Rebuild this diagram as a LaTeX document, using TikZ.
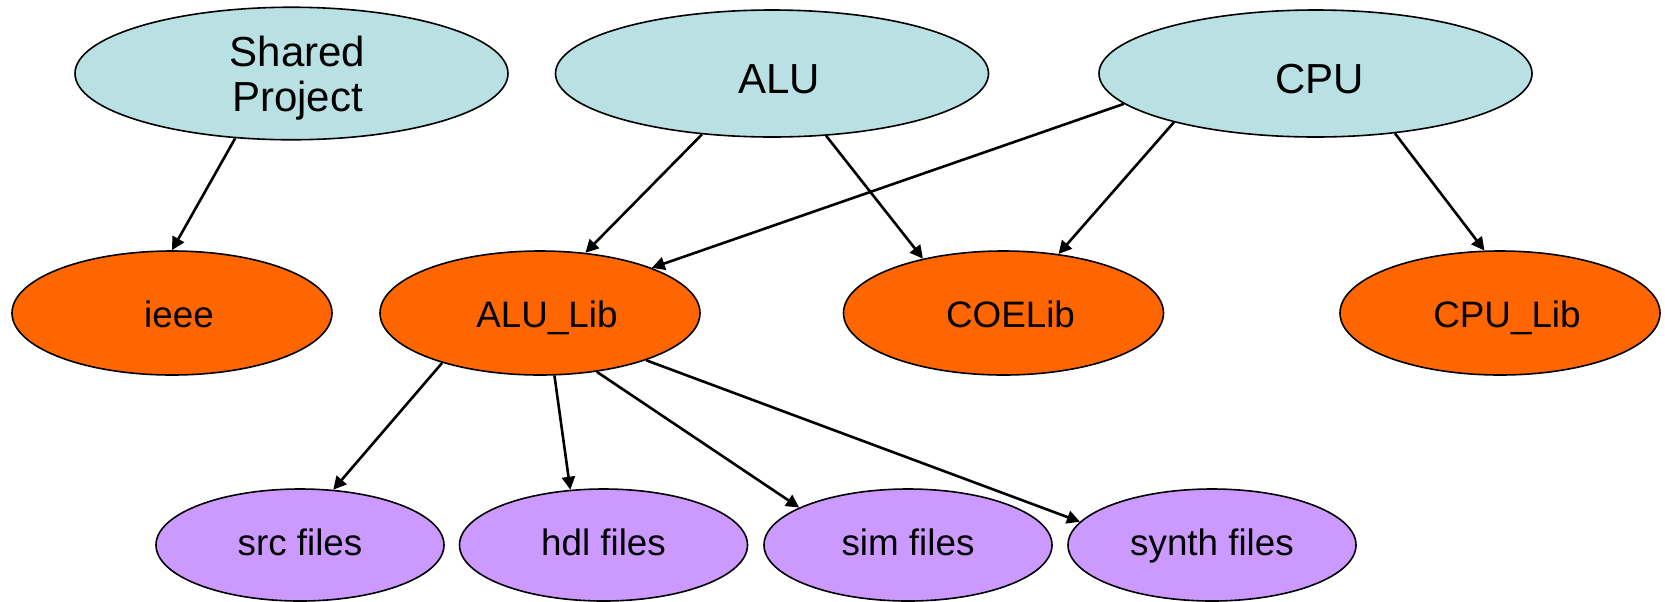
\documentclass[tikz,border=0pt]{standalone}
\usepackage{fontspec}
\setmainfont{Liberation Sans}
\usetikzlibrary{shapes.geometric,arrows.meta}
\definecolor{topblue}{RGB}{185,224,227}
\definecolor{liborange}{RGB}{255,102,0}
\definecolor{filepurple}{RGB}{204,153,255}
\begin{document}
\begin{tikzpicture}[x=0.5pt,y=-0.5pt,
  topnode/.style={ellipse,draw=black,line width=0.8pt,fill=topblue,inner sep=0pt,
    minimum width=216.5pt,minimum height=63.5pt,align=center,
    font=\fontsize{21}{22.5}\selectfont},
  topone/.style={topnode,text height=20pt,text depth=0pt},
  libnode/.style={ellipse,draw=black,line width=0.8pt,fill=liborange,inner sep=0pt,
    minimum width=160pt,minimum height=62pt,font=\fontsize{18.4}{21}\selectfont,
    text height=14.4pt,text depth=0pt},
  filenode/.style={ellipse,draw=black,line width=0.8pt,fill=filepurple,inner sep=0pt,
    minimum width=144pt,minimum height=56pt,font=\fontsize{18.4}{21}\selectfont,
    text height=10.5pt,text depth=0pt},
  conn/.style={line width=1.3pt,-{Triangle[length=6.5pt,width=6.5pt]}}]
\useasboundingbox (0,0) rectangle (1665,601);
% top row
\node[topnode] (sp)  at (291.5,73.5) {\hspace*{6pt}\rule{0pt}{20pt}Shared\\\hspace*{6pt}Project};
\node[topone] (alu) at (772,73.5)   {\hspace*{7pt}ALU};
\node[topone] (cpu) at (1315.5,73.5) {\hspace*{4pt}CPU};
% libraries
\node[libnode] (ieee) at (172,313)   {\hspace*{7pt}ieee};
\node[libnode] (alul) at (540,313)   {\hspace*{7pt}ALU\_Lib};
\node[libnode] (coe)  at (1003.5,313) {\hspace*{7pt}COELib};
\node[libnode] (cpul) at (1500,313)  {\hspace*{7pt}CPU\_Lib};
% files
\node[filenode] (src)   at (300,545)   {src files};
\node[filenode] (hdl)   at (603.5,545) {hdl files};
\node[filenode] (sim)   at (908,545)   {sim files};
\node[filenode] (synth) at (1212,545)  {synth files};
% connectors
\draw[conn] (sp.229.3)  -- (ieee.90);
\draw[conn] (alu.221.5) -- (alul.53);
\draw[conn] (alu.311)   -- (coe.146);
\draw[conn] (cpu.189.9) -- (alul.22);
\draw[conn] (cpu.199.9) -- (coe.47);
\draw[conn] (cpu.323.9) -- (cpul.104.9);
\draw[conn] (alul.207.3) -- (src.59);
\draw[conn] (alul.283.8) -- (hdl.121);
\draw[conn] (alul.314.6) -- (sim.161.4);
\draw[conn] (alul.336.6) -- (synth.170.8);
\end{tikzpicture}
\end{document}
